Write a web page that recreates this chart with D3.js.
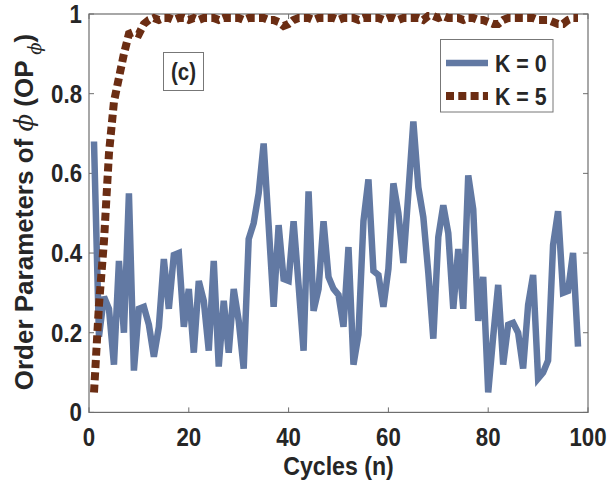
<!DOCTYPE html>
<html>
<head>
<meta charset="utf-8">
<script src="https://cdn.jsdelivr.net/npm/d3@7"></script>
<style>
  html, body { margin: 0; padding: 0; background: #fff; }
  svg text { font-family: "Liberation Sans", Arial, sans-serif; font-weight: bold; fill: #262626; }
</style>
</head>
<body>
<svg id="chart" width="608" height="484"></svg>
<script>
// ---- data ----
const cycles = d3.range(1, 99); // n = 1..98
const k0Values = [
  0.68, 0.19, 0.29, 0.26, 0.12, 0.38, 0.20, 0.55, 0.105, 0.26,
  0.265, 0.22, 0.14, 0.215, 0.385, 0.26, 0.395, 0.40, 0.215, 0.31,
  0.15, 0.33, 0.28, 0.155, 0.38, 0.115, 0.28, 0.15, 0.31, 0.23,
  0.11, 0.435, 0.475, 0.55, 0.675, 0.47, 0.265, 0.47, 0.335, 0.33,
  0.48, 0.32, 0.155, 0.555, 0.255, 0.31, 0.48, 0.34, 0.31, 0.295,
  0.215, 0.415, 0.12, 0.195, 0.48, 0.585, 0.355, 0.345, 0.265, 0.36,
  0.575, 0.50, 0.375, 0.55, 0.73, 0.565, 0.49, 0.35, 0.185, 0.44,
  0.52, 0.45, 0.26, 0.41, 0.26, 0.595, 0.51, 0.23, 0.34, 0.05,
  0.19, 0.32, 0.12, 0.22, 0.225, 0.20, 0.11, 0.27, 0.345, 0.085,
  0.10, 0.13, 0.42, 0.505, 0.30, 0.305, 0.40, 0.165
];
const k5Values = [
  0.05, 0.27, 0.43, 0.65, 0.78, 0.84, 0.90, 0.95, 0.955, 0.95,
  0.975, 0.985, 0.99, 0.985, 0.99, 0.99, 0.985, 0.99, 0.99, 0.985,
  0.99, 0.985, 0.99, 0.99, 0.99, 0.985, 0.99, 0.99, 0.99, 0.99,
  0.985, 0.99, 0.99, 0.99, 0.99, 0.985, 0.985, 0.98, 0.97, 0.975,
  0.985, 0.99, 0.99, 0.99, 0.985, 0.99, 0.99, 0.99, 0.99, 0.985,
  0.99, 0.99, 0.99, 0.985, 0.99, 0.99, 0.99, 0.99, 0.985, 0.99,
  0.99, 0.985, 0.99, 0.99, 0.99, 0.99, 0.985, 0.995, 0.995, 0.99,
  0.995, 0.99, 0.99, 0.99, 0.985, 0.99, 0.99, 0.985, 0.985, 0.98,
  0.975, 0.975, 0.985, 0.99, 0.99, 0.99, 0.99, 0.99, 0.99, 0.985,
  0.985, 0.985, 0.98, 0.975, 0.975, 0.985, 0.99, 0.99
];
const xTicks = [0, 20, 40, 60, 80, 100];
const yTicks = [0, 0.2, 0.4, 0.6, 0.8, 1];
const yTickLabels = ["0", "0.2", "0.4", "0.6", "0.8", "1"];
const seriesNames = ["K = 0", "K = 5"];

// ---- layout ----
const svg = d3.select("#chart");
const L = 89, R = 588, T = 14, B = 412.4;
const x = d3.scaleLinear().domain([0, 100]).range([L, R]);
const y = d3.scaleLinear().domain([0, 1]).range([B, T]);
const blue = "#6279a3", brown = "#6b2d13", axisCol = "#6e6e6e";
const SX = 0.89; // horizontal condensation of the text

function label(px, py, txt, size, anchor) {
  return svg.append("text")
    .attr("transform", `translate(${px},${py}) scale(${SX},1)`)
    .attr("text-anchor", anchor || "middle").attr("font-size", size).text(txt);
}

// plot frame
svg.append("rect").attr("x", L).attr("y", T).attr("width", R - L).attr("height", B - T)
  .attr("fill", "#fff").attr("stroke", axisCol).attr("stroke-width", 1.2);

// ticks (inward, mirrored)
const tickLen = 5;
const g = svg.append("g").attr("stroke", axisCol).attr("stroke-width", 1);
xTicks.forEach(t => {
  g.append("line").attr("x1", x(t)).attr("x2", x(t)).attr("y1", B).attr("y2", B - tickLen);
  g.append("line").attr("x1", x(t)).attr("x2", x(t)).attr("y1", T).attr("y2", T + tickLen);
});
yTicks.forEach(t => {
  g.append("line").attr("y1", y(t)).attr("y2", y(t)).attr("x1", L).attr("x2", L + tickLen);
  g.append("line").attr("y1", y(t)).attr("y2", y(t)).attr("x1", R).attr("x2", R - tickLen);
});

// tick labels
xTicks.forEach(t => label(x(t), 446, String(t), 25, "middle"));
yTicks.forEach((t, i) => label(82, y(t) + 9, yTickLabels[i], 25, "end"));

// axis labels
label(x(50), 475, "Cycles (n)", 26, "middle");

const yl = svg.append("text").attr("transform", "translate(33,212) rotate(-90)")
  .attr("text-anchor", "middle").attr("font-size", 26);
yl.append("tspan").text("Order Parameters of ");
yl.append("tspan").attr("font-style", "italic").attr("font-weight", "normal")
  .attr("font-family", "DejaVu Serif, serif").text("ϕ");
yl.append("tspan").text("  (OP");
yl.append("tspan").attr("font-style", "italic").attr("font-weight", "normal")
  .attr("font-family", "DejaVu Serif, serif").attr("font-size", 18).attr("dy", 8).text(" ϕ");
yl.append("tspan").attr("dy", -8).text(")");

// lines
const line = d3.line().x(d => x(d[0])).y(d => y(d[1]));

svg.append("path").datum(cycles.map((c, i) => [c, k0Values[i]]))
  .attr("d", line).attr("fill", "none").attr("stroke", blue).attr("stroke-width", 6.5)
  .attr("stroke-linejoin", "miter").attr("stroke-miterlimit", 3);

svg.append("path").datum(cycles.map((c, i) => [c, k5Values[i]]))
  .attr("d", line).attr("fill", "none").attr("stroke", brown).attr("stroke-width", 8)
  .attr("stroke-dasharray", "8,4.3");

// (c) annotation box
svg.append("rect").attr("x", 163.5).attr("y", 52.5).attr("width", 40).attr("height", 38)
  .attr("fill", "#fff").attr("stroke", "#777").attr("stroke-width", 1);
label(183.5, 80, "(c)", 23, "middle");

// legend
svg.append("rect").attr("x", 440.5).attr("y", 39.5).attr("width", 112.5).attr("height", 72.5)
  .attr("fill", "#fff").attr("stroke", "#777").attr("stroke-width", 1);
const legY = [63, 96];
[blue, brown].forEach((c, i) => {
  const ln = svg.append("line").attr("x1", 446).attr("x2", 488)
    .attr("y1", legY[i]).attr("y2", legY[i]).attr("stroke", c);
  if (i === 0) ln.attr("stroke-width", 6.5);
  else ln.attr("stroke-width", 8).attr("stroke-dasharray", "8,4.3");
  label(495, legY[i] + 8.5, seriesNames[i], 24, "start");
});
</script>
</body>
</html>
